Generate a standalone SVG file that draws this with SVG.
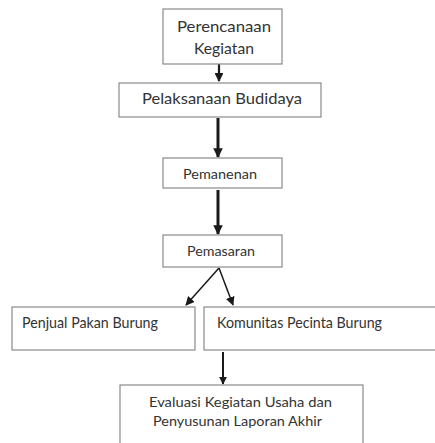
<svg xmlns="http://www.w3.org/2000/svg" width="435" height="443" viewBox="0 0 435 443">
<style>
.box{fill:#fff;stroke:#8a8a8a;stroke-width:1.2}
.t{font-family:Lato,"Open Sans",sans-serif;fill:#333;text-anchor:middle}
.c{stroke:#1a1a1a;fill:none}
</style>
<defs>
<marker id="ah" viewBox="0 0 10 10" refX="9" refY="5" markerWidth="4" markerHeight="4" markerUnits="strokeWidth" orient="auto">
<path d="M0,0 L10,5 L0,10 z" fill="#1a1a1a"/>
</marker>
<marker id="ah2" viewBox="0 0 10 10" refX="9" refY="5" markerWidth="3.2" markerHeight="3.2" markerUnits="strokeWidth" orient="auto">
<path d="M0,0 L10,5 L0,10 z" fill="#1a1a1a"/>
</marker>
<marker id="ah3" viewBox="0 0 10 10" refX="9" refY="5" markerWidth="6" markerHeight="6" markerUnits="strokeWidth" orient="auto">
<path d="M0,0 L10,5 L0,10 z" fill="#1a1a1a"/>
</marker>
</defs>
<rect width="435" height="443" fill="#fff"/>
<g id="connectors">
<line class="c" x1="219" y1="64" x2="219" y2="81" stroke-width="2.2" marker-end="url(#ah)"/>
<line class="c" x1="218" y1="118" x2="218" y2="157" stroke-width="3" marker-end="url(#ah2)"/>
<line class="c" x1="218" y1="190" x2="218" y2="234" stroke-width="3" marker-end="url(#ah2)"/>
<line class="c" x1="219" y1="268" x2="186" y2="305" stroke-width="1.5" marker-end="url(#ah3)"/>
<line class="c" x1="219" y1="268" x2="233" y2="305" stroke-width="1.5" marker-end="url(#ah3)"/>
<line class="c" x1="223" y1="352" x2="223" y2="384" stroke-width="2" marker-end="url(#ah)"/>
</g>
<g id="node-perencanaan">
<rect class="box" x="163" y="9" width="119" height="55"/>
<text class="t" x="224" y="32" font-size="16" textLength="94" lengthAdjust="spacingAndGlyphs">Perencanaan</text>
<text class="t" x="224" y="54" font-size="16" textLength="60" lengthAdjust="spacingAndGlyphs">Kegiatan</text>
</g>
<g id="node-pelaksanaan">
<rect class="box" x="119" y="83" width="202" height="34"/>
<text class="t" x="222" y="104" font-size="16" textLength="160" lengthAdjust="spacingAndGlyphs">Pelaksanaan Budidaya</text>
</g>
<g id="node-pemanenan">
<rect class="box" x="163" y="158" width="119" height="30"/>
<text class="t" x="220" y="179" font-size="14" textLength="74" lengthAdjust="spacingAndGlyphs">Pemanenan</text>
</g>
<g id="node-pemasaran">
<rect class="box" x="163" y="235" width="119" height="32"/>
<text class="t" x="221" y="256" font-size="14" textLength="68" lengthAdjust="spacingAndGlyphs">Pemasaran</text>
</g>
<g id="node-penjual">
<rect class="box" x="12" y="307" width="183" height="43"/>
<text class="t" x="90" y="328" font-size="15" textLength="136" lengthAdjust="spacingAndGlyphs">Penjual Pakan Burung</text>
</g>
<g id="node-komunitas">
<rect class="box" x="204" y="307" width="240" height="43"/>
<text class="t" x="299.5" y="328" font-size="15" textLength="165" lengthAdjust="spacingAndGlyphs">Komunitas Pecinta Burung</text>
</g>
<g id="node-evaluasi">
<rect class="box" x="120" y="385" width="243" height="70"/>
<text class="t" x="240.5" y="407" font-size="14" textLength="183" lengthAdjust="spacingAndGlyphs">Evaluasi Kegiatan Usaha dan</text>
<text class="t" x="237.5" y="426" font-size="14" textLength="169" lengthAdjust="spacingAndGlyphs">Penyusunan Laporan Akhir</text>
</g>
</svg>
